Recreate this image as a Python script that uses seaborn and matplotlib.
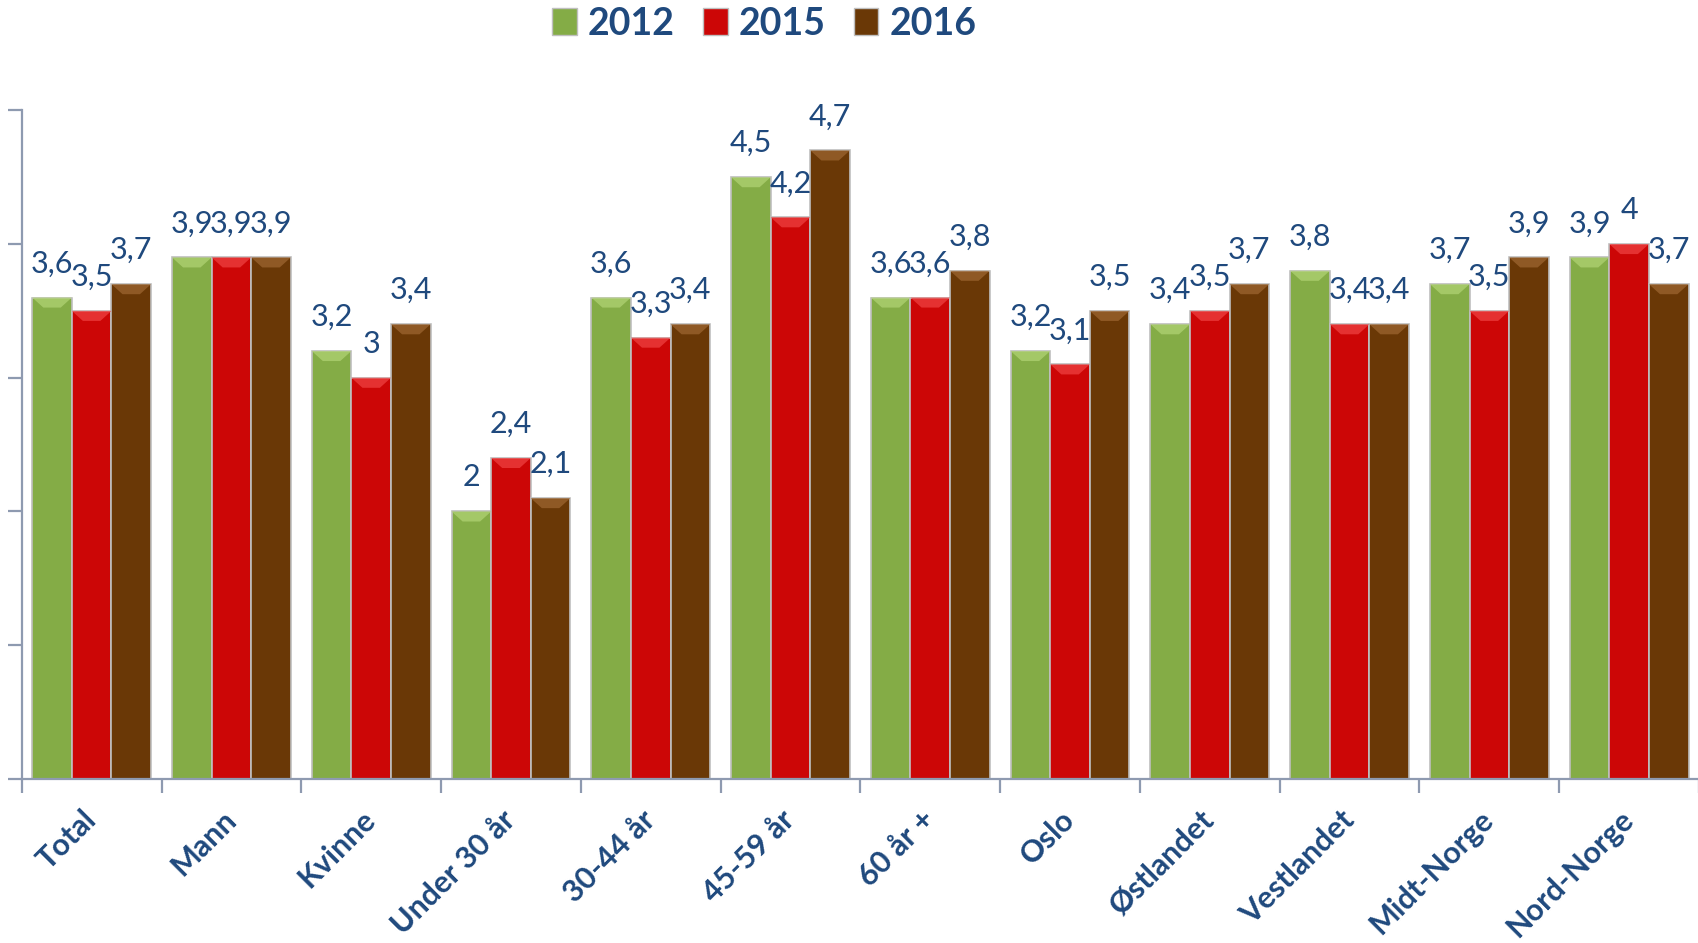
import numpy as np
import pandas as pd
import seaborn as sns
import matplotlib
matplotlib.use("Agg")
import matplotlib.pyplot as plt
from matplotlib.patches import Polygon, Patch

categories = ["Total", "Mann", "Kvinne", "Under 30 år", "30-44 år", "45-59 år",
              "60 år +", "Oslo", "Østlandet", "Vestlandet", "Midt-Norge", "Nord-Norge"]
years = ["2012", "2015", "2016"]
v2012 = [3.6, 3.9, 3.2, 2.0, 3.6, 4.5, 3.6, 3.2, 3.4, 3.8, 3.7, 3.9]
v2015 = [3.5, 3.9, 3.0, 2.4, 3.3, 4.2, 3.6, 3.1, 3.5, 3.4, 3.5, 4.0]
v2016 = [3.7, 3.9, 3.4, 2.1, 3.4, 4.7, 3.8, 3.5, 3.7, 3.4, 3.9, 3.7]
series = {"2012": v2012, "2015": v2015, "2016": v2016}
colors = {"2012": "#84AC46", "2015": "#CC0606", "2016": "#6A3806"}
light = {"2012": "#B0D273", "2015": "#EE4040", "2016": "#9C6530"}

df = pd.DataFrame([(c, y, series[y][i]) for y in years for i, c in enumerate(categories)],
                  columns=["cat", "year", "val"])

sns.set_style("white")
plt.rcParams["font.family"] = ["Lato", "DejaVu Sans"]
txt_col = "#1F497D"

fig = plt.figure(figsize=(16.99, 9.43), dpi=100)
ax = fig.add_axes([0.0128, 0.174, 0.9872, 0.709])

sns.barplot(data=df, x="cat", y="val", hue="year", order=categories, hue_order=years,
            palette=colors, width=0.85, gap=0.0, edgecolor="#BFBFBF", linewidth=1.2,
            saturation=1, legend=False, ax=ax, errorbar=None)

ax.set_ylim(0, 5)
ax.set_xlim(-0.5, 11.47)

# bevel on top + value labels
bevel = 0.075
for y, cont in zip(years, ax.containers):
    for patch, v in zip(cont.patches, series[y]):
        x0 = patch.get_x(); w = patch.get_width(); h = patch.get_height()
        inset = w * 0.28
        poly = Polygon([[x0, h], [x0 + w, h], [x0 + w - inset, h - bevel], [x0 + inset, h - bevel]],
                       closed=True, facecolor=light[y], edgecolor="none", alpha=0.75, zorder=3)
        ax.add_patch(poly)
        lab = f"{v:g}".replace(".", ",")
        ax.annotate(lab, (x0 + w / 2, h), xytext=(0, 18), textcoords="offset points",
                    ha="center", va="baseline", fontsize=22, color=txt_col,
                    annotation_clip=False, zorder=5)

# axes styling
for s in ["top", "right"]:
    ax.spines[s].set_visible(False)
for s in ["left", "bottom"]:
    ax.spines[s].set_color("#8E9AB0")
    ax.spines[s].set_linewidth(1.6)
ax.set_yticks(np.arange(0, 6, 1))
ax.set_yticklabels([])
ax.tick_params(axis="y", direction="out", length=10, width=1.6, color="#8E9AB0", left=True)
ax.set_xticks(np.arange(len(categories)))
ax.set_xticklabels(categories, rotation=45, ha="right", va="center", rotation_mode="anchor",
                   fontsize=22, fontweight="bold", color=txt_col)
ax.tick_params(axis="x", length=0, pad=26)
ax.set_xticks(np.arange(-0.5, len(categories), 1), minor=True)
ax.tick_params(axis="x", which="minor", direction="out", length=10, width=1.6, color="#8E9AB0", bottom=True)
ax.set_xlabel("")
ax.set_ylabel("")

handles = [Patch(facecolor=colors[y], edgecolor="#BFBFBF") for y in years]
leg = fig.legend(handles, years, loc="center", bbox_to_anchor=(0.45, 0.975), ncol=3,
                 frameon=False, handlelength=0.65, handleheight=0.75, handletextpad=0.3,
                 columnspacing=0.75, prop={"size": 27, "weight": "bold"})
for t in leg.get_texts():
    t.set_color(txt_col)

fig.savefig("out.png", dpi=100)
